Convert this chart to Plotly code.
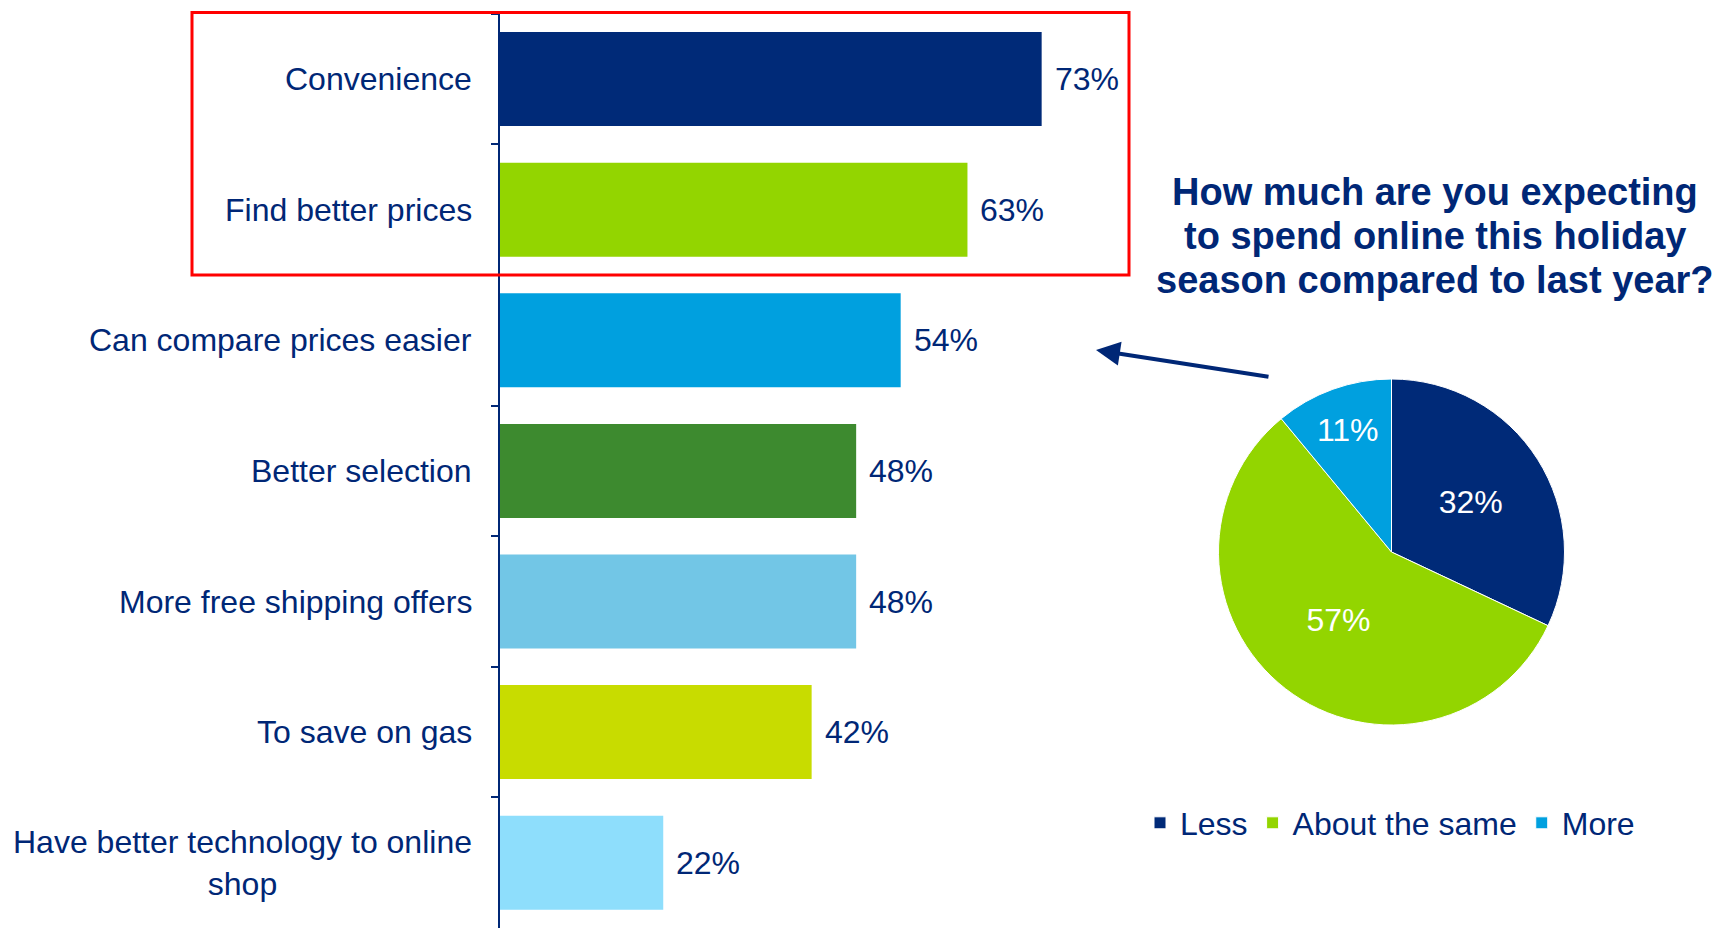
import plotly.graph_objects as go

# Reasons for shopping online (share of respondents, %)
reasons = [
    "Convenience",
    "Find better prices",
    "Can compare prices easier",
    "Better selection",
    "More free shipping offers",
    "To save on gas",
    "Have better technology to online<br>shop",
]
reason_pct = [73, 63, 54, 48, 48, 42, 22]
bar_colors = ["#002A78", "#93D500", "#00A0DF", "#3D8A2F", "#72C6E6", "#C8DC00", "#8EDEFC"]

# Expected online holiday spend vs last year (%)
spend_labels = ["Less", "About the same", "More"]
spend_pct = [32, 57, 11]
spend_colors = ["#002A78", "#93D500", "#00A0DF"]

question_lines = [
    "How much are you expecting",
    "to spend online this holiday",
    "season compared to last year?",
]

NAVY = "#002776"
FONT = "Arial, 'Liberation Sans', sans-serif"
W, H = 1724, 928

fig = go.Figure()

fig.add_trace(go.Bar(
    x=reason_pct,
    y=reasons,
    orientation="h",
    width=0.72,
    marker=dict(color=bar_colors, line=dict(width=0)),
    showlegend=False,
    hoverinfo="skip",
))

fig.add_trace(go.Pie(
    labels=spend_labels,
    values=spend_pct,
    marker=dict(colors=spend_colors, line=dict(color="white", width=1)),
    sort=False,
    direction="clockwise",
    rotation=0,
    texttemplate="%{value}%",
    textposition="inside",
    insidetextorientation="horizontal",
    textfont=dict(color="white", size=32, family=FONT),
    domain=dict(x=[(1391.5 - 173) / W, (1391.5 + 173) / W],
                y=[1 - (552 + 173) / H, 1 - (552 - 173) / H]),
    showlegend=True,
    hoverinfo="skip",
))

annotations = []

# category labels, centred multi-line, right-aligned against the axis
for name in reasons:
    annotations.append(dict(
        x=0, y=name, xref="x", yref="y",
        text=name, showarrow=False,
        xanchor="right", yanchor="middle", align="center",
        xshift=-26,
        font=dict(size=32, color=NAVY, family=FONT),
    ))

# value labels at the end of each bar
for name, v in zip(reasons, reason_pct):
    annotations.append(dict(
        x=v, y=name, xref="x", yref="y",
        text=f"{v}%", showarrow=False,
        xanchor="left", yanchor="middle",
        xshift=11,
        font=dict(size=32, color=NAVY, family=FONT),
    ))

# question heading above the pie
for i, line in enumerate(question_lines):
    annotations.append(dict(
        x=1435 / W, y=1 - (192 + 44 * i) / H, xref="paper", yref="paper",
        text=f"<b>{line}</b>", showarrow=False,
        xanchor="center", yanchor="middle",
        font=dict(size=38, color=NAVY, family=FONT),
    ))

# arrow pointing from the pie back to the bar chart
annotations.append(dict(
    x=1096 / W, y=1 - 350 / H, xref="paper", yref="paper",
    ax=174, ay=27, axref="pixel", ayref="pixel",
    text="", showarrow=True,
    arrowhead=2, arrowsize=1.2, arrowwidth=4, arrowcolor=NAVY,
))

fig.update_layout(
    width=W, height=H,
    margin=dict(l=0, r=0, t=0, b=0),
    paper_bgcolor="white",
    plot_bgcolor="white",
    font=dict(family=FONT, color=NAVY),
    xaxis=dict(
        domain=[500 / W, (500 + 80 * 7.42) / W],
        range=[0, 80],
        visible=False,
    ),
    yaxis=dict(
        domain=[0, 1 - 11 / H],
        autorange="reversed",
        showticklabels=False,
        ticks="outside", ticklen=7, tickwidth=1.5, tickcolor=NAVY,
        tickson="boundaries",
        showline=True, linecolor=NAVY, linewidth=2,
        showgrid=False, zeroline=False,
    ),
    legend=dict(
        orientation="h",
        x=1140 / W, y=1 - 823 / H,
        xanchor="left", yanchor="middle",
        font=dict(size=32, color=NAVY, family=FONT),
        itemclick=False, itemdoubleclick=False,
        bgcolor="rgba(0,0,0,0)",
    ),
    annotations=annotations,
    shapes=[dict(
        type="rect", xref="paper", yref="y",
        x0=192 / W, x1=1129 / W, y0=-0.51, y1=1.5,
        line=dict(color="#FF0000", width=3),
        fillcolor="rgba(0,0,0,0)",
        layer="above",
    )],
)

fig.write_html("out.html")
